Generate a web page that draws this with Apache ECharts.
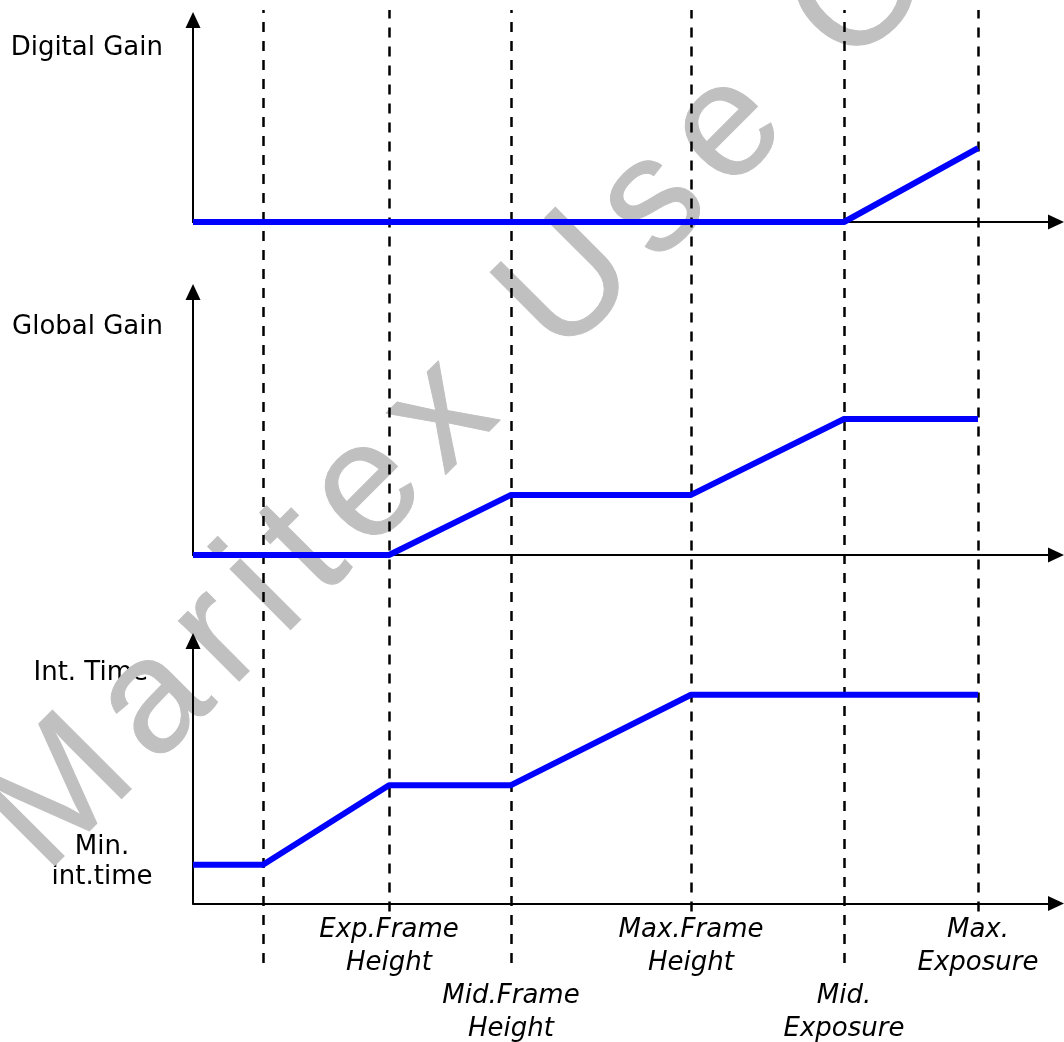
<!DOCTYPE html>
<html>
<head>
<meta charset="utf-8">
<script src="https://cdn.jsdelivr.net/npm/echarts@6/dist/echarts.min.js"></script>
<style>
html, body { margin: 0; padding: 0; background: #fff; }
#chart { width: 1064px; height: 1042px; }
</style>
</head>
<body>
<div id="chart"></div>
<script>
// exposure break points, shared by the three plots
const breakX = [0, 7.0, 19.6, 31.8, 49.8, 65.1, 78.5]
const xMax = 86.3
const breakLabels = ['', 'Min.\nExposure', 'Exp.Frame\nHeight', 'Mid.Frame\nHeight', 'Max.Frame\nHeight', 'Mid.\nExposure', 'Max.\nExposure']
const digitalGain = [0, 0, 0, 0, 0, 0, 3.66]
const globalGain = [0, 0, 0, 2.97, 2.97, 6.72, 6.72]
const intTime = [1.92, 1.92, 5.86, 5.86, 10.34, 10.34, 10.34]
const yMax = [10, 13, 13]

const chart = echarts.init(document.getElementById('chart'))

const arrowLine = {
  show: true,
  symbol: ['none', 'triangle'],
  symbolSize: [15, 16],
  lineStyle: { color: '#000', width: 2 }
}

// dashed guides under an upper-row label stop just below the axis
const dashCut = 0.054

function xAxisFor(i) {
  const ax = {
    type: 'value',
    gridIndex: i,
    min: 0,
    max: xMax,
    z: 5,
    axisLine: arrowLine,
    axisTick: { show: false },
    axisLabel: { show: false },
    splitLine: { show: false }
  }
  if (i === 2) {
    // exposure names under the bottom plot, alternating rows
    ax.axisLabel = {
      show: true,
      customValues: breakX.slice(1),
      margin: 10,
      formatter: function (v) {
        const k = breakX.indexOf(v)
        const lines = breakLabels[k].split('\n')
        if (k % 2 === 0) return lines.map(s => '{n|' + s + '}').join('\n')
        return ['{n| }', '{n| }'].concat(lines.map(s => '{n|' + s + '}')).join('\n')
      },
      rich: {
        n: { fontFamily: 'DejaVu Sans', fontStyle: 'italic', fontSize: 26, lineHeight: 33, color: '#000' }
      }
    }
  }
  return ax
}

function yAxisFor(i) {
  return {
    type: 'value',
    gridIndex: i,
    min: 0,
    max: yMax[i],
    z: 5,
    axisLine: arrowLine,
    axisTick: { show: false },
    axisLabel: { show: false },
    splitLine: { show: false }
  }
}

function pairs(vals) {
  return breakX.map((x, i) => [x, vals[i]])
}

function blueLine(i, vals) {
  return {
    type: 'line',
    xAxisIndex: i,
    yAxisIndex: i,
    data: pairs(vals),
    symbol: 'none',
    z: 6,
    lineStyle: { color: '#0000ff', width: 6 }
  }
}

function labelText(x, y, text, align, lh) {
  return {
    type: 'text', x: x, y: y, z: 0,
    style: {
      text: text, fontFamily: 'DejaVu Sans', fontSize: 26, lineHeight: lh || 30,
      fill: '#000', align: align, verticalAlign: 'middle'
    }
  }
}

// watermark: spaced letters along a 45 degree baseline
function watermark() {
  const text = 'Maritex Use Only'
  const size = 162
  const spacing = 19
  const font = 'Liberation Sans'
  const ctx = document.createElement('canvas').getContext('2d')
  ctx.font = size + 'px "' + font + '"'
  const kids = []
  let pos = 0
  let uCenter = 0
  for (const ch of text) {
    const w = ctx.measureText(ch).width
    if (ch === 'U') uCenter = pos + w / 2
    if (ch !== ' ') {
      kids.push({
        type: 'text', x: pos, y: 0, z: 1,
        style: {
          text: ch, fontFamily: font, fontSize: size, fill: '#c0c0c0',
          stroke: '#c0c0c0', lineWidth: 1, lineJoin: 'round',
          align: 'left', verticalAlign: 'middle'
        }
      })
    }
    pos += w + spacing
  }
  // place the U centre on the reference spot, middle line across the letters
  const p = 200 - uCenter
  const q = -606
  const c = Math.SQRT1_2
  return {
    type: 'group', x: c * p - c * q, y: -c * p - c * q, rotation: Math.PI / 4, z: 1,
    children: kids
  }
}

const option = {
  animation: false,
  backgroundColor: '#fff',
  grid: [
    { left: 193, top: 20, width: 863, height: 202 },
    { left: 193, top: 292, width: 863, height: 263 },
    { left: 193, top: 641, width: 863, height: 264 },
    { left: 193, top: 10, width: 863, height: 953 }
  ],
  xAxis: [xAxisFor(0), xAxisFor(1), xAxisFor(2),
    { type: 'value', gridIndex: 3, min: 0, max: xMax, show: false }],
  yAxis: [yAxisFor(0), yAxisFor(1), yAxisFor(2),
    { type: 'value', gridIndex: 3, min: 0, max: 1, show: false }],
  series: [
    blueLine(0, digitalGain),
    blueLine(1, globalGain),
    blueLine(2, intTime),
    {
      type: 'line',
      xAxisIndex: 3,
      yAxisIndex: 3,
      data: [],
      z: 4,
      markLine: {
        silent: true,
        symbol: ['none', 'none'],
        label: { show: false },
        lineStyle: { color: '#000', width: 2.5, type: [10, 9] },
        data: breakX.slice(1).map((v, i) => [
          { coord: [v, (i + 1) % 2 === 0 ? dashCut : 0] },
          { coord: [v, 1] }
        ])
      }
    }
  ],
  graphic: [
    labelText(163, 48, 'Digital Gain', 'right'),
    labelText(163, 327, 'Global Gain', 'right'),
    labelText(148, 673, 'Int. Time', 'right'),
    labelText(102, 862, 'Min.\nint.time', 'center', 30),
    watermark()
  ]
}

chart.setOption(option)
window.addEventListener('resize', () => { chart.resize() })
</script>
</body>
</html>
